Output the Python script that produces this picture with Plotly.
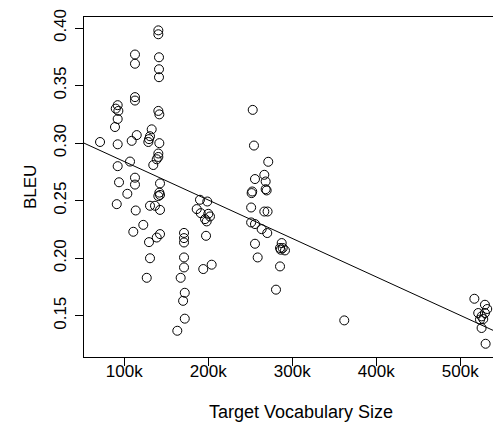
import plotly.graph_objects as go

# Target vocabulary size (in thousands) and BLEU scores
vocab_k = [
    71.1, 92.1, 89.8, 92.9, 92.1, 88.9, 92.1, 92.1, 93.7, 91.0,
    103.6, 106.8, 112.7, 112.7, 112.7, 112.7, 108.8, 114.8, 112.7, 112.7,
    113.6, 110.7, 122.6, 126.7, 130.6, 129.4, 138.6, 142.5, 130.6, 136.5,
    142.5, 142.5, 141.7, 142.5, 140.5, 130.6, 129.4, 128.6, 132.6, 141.7,
    140.5, 140.5, 138.6, 134.5, 140.5, 141.7, 140.5, 140.5, 141.3, 141.3,
    141.3,
    171.1, 171.1, 171.1, 171.1, 171.1, 167.1, 172.0, 170.0, 172.0, 163.1,
    190.1, 198.8, 186.2, 191.0, 200.0, 202.0, 196.1, 198.1, 197.3, 204.0,
    194.0,
    252.9, 254.4, 271.4, 266.7, 255.6, 268.3, 252.3, 251.6, 268.3, 269.5,
    251.0, 266.7, 270.6, 251.0, 255.6, 263.5, 270.2, 255.6, 258.8, 287.4,
    285.4, 288.6, 291.3, 286.2, 285.4, 280.6,
    361.9,
    516.8, 529.4, 532.1, 521.4, 529.4, 525.4, 523.5, 527.4, 525.4, 530.2,
]
bleu = [
    0.301, 0.333, 0.330, 0.328, 0.321, 0.314, 0.299, 0.280, 0.266, 0.247,
    0.256, 0.284, 0.340, 0.337, 0.377, 0.369, 0.302, 0.307, 0.270, 0.264,
    0.2415, 0.223, 0.229, 0.183, 0.200, 0.214, 0.218, 0.221, 0.2456, 0.2456,
    0.242, 0.265, 0.257, 0.255, 0.254, 0.306, 0.3035, 0.301, 0.312, 0.300,
    0.291, 0.288, 0.286, 0.281, 0.328, 0.325, 0.398, 0.3946, 0.3746, 0.3642,
    0.3573,
    0.222, 0.2175, 0.2137, 0.2007, 0.192, 0.183, 0.170, 0.163, 0.1475, 0.137,
    0.2508, 0.2493, 0.2427, 0.2392, 0.2386, 0.2363, 0.234, 0.232, 0.2195, 0.1944,
    0.1906,
    0.3289, 0.2979, 0.2838, 0.2725, 0.2688, 0.2667, 0.258, 0.2566, 0.260, 0.2589,
    0.2441, 0.2406, 0.2406, 0.2311, 0.2297, 0.2253, 0.2219, 0.2126, 0.2007, 0.2132,
    0.2089, 0.2089, 0.2068, 0.2074, 0.1929, 0.1727,
    0.146,
    0.1648, 0.1596, 0.1559, 0.1524, 0.1524, 0.1495, 0.1467, 0.1472, 0.1394, 0.1257,
]

# fitted regression line (abline)
fit_intercept = 0.3174
fit_slope = -3.34e-7

x_range = [52000, 539000]
y_range = [0.1142, 0.4096]

x_tick_vals = [100000, 200000, 300000, 400000, 500000]
x_tick_text = ["100k", "200k", "300k", "400k", "500k"]
y_tick_vals = [0.15, 0.20, 0.25, 0.30, 0.35, 0.40]
y_tick_text = ["0.15", "0.20", "0.25", "0.30", "0.35", "0.40"]

x_vals = [v * 1000 for v in vocab_k]
line_x = x_range
line_y = [fit_intercept + fit_slope * xv for xv in line_x]

FONT = "Liberation Sans, Arial, Helvetica, sans-serif"

fig = go.Figure()
fig.add_trace(go.Scatter(
    x=x_vals, y=bleu, mode="markers",
    marker=dict(symbol="circle-open", size=9, color="black", line=dict(width=1, color="black")),
    showlegend=False, hoverinfo="skip",
))
fig.add_trace(go.Scatter(
    x=line_x, y=line_y, mode="lines",
    line=dict(color="black", width=1),
    showlegend=False, hoverinfo="skip",
))

fig.update_layout(
    width=493, height=423,
    margin=dict(l=84, r=0, t=17, b=66),
    paper_bgcolor="white", plot_bgcolor="white",
    font=dict(family=FONT, size=17, color="black"),
    xaxis=dict(
        range=x_range, tickmode="array", tickvals=x_tick_vals, ticktext=x_tick_text,
        showgrid=False, zeroline=False, showline=True, linecolor="black", linewidth=1,
        mirror=True, ticks="outside", ticklen=8, tickcolor="black", tickwidth=1,
        tickfont=dict(size=17), ticklabelstandoff=-9,
    ),
    yaxis=dict(
        range=y_range, tickmode="array", tickvals=y_tick_vals, ticktext=y_tick_text,
        showgrid=False, zeroline=False, showline=True, linecolor="black", linewidth=1,
        mirror=False, ticks="outside", ticklen=8, tickcolor="black", tickwidth=1,
        tickangle=-90, tickfont=dict(size=17), ticklabelstandoff=2,
    ),
    annotations=[
        dict(text="Target Vocabulary Size", xref="paper", yref="paper",
             x=0.5306, y=-0.161, xanchor="center", yanchor="middle",
             showarrow=False, font=dict(size=18)),
        dict(text="BLEU", xref="paper", yref="paper",
             x=-0.132, y=0.5, xanchor="center", yanchor="middle", textangle=-90,
             showarrow=False, font=dict(size=17)),
    ],
)

fig.write_html("out.html")
